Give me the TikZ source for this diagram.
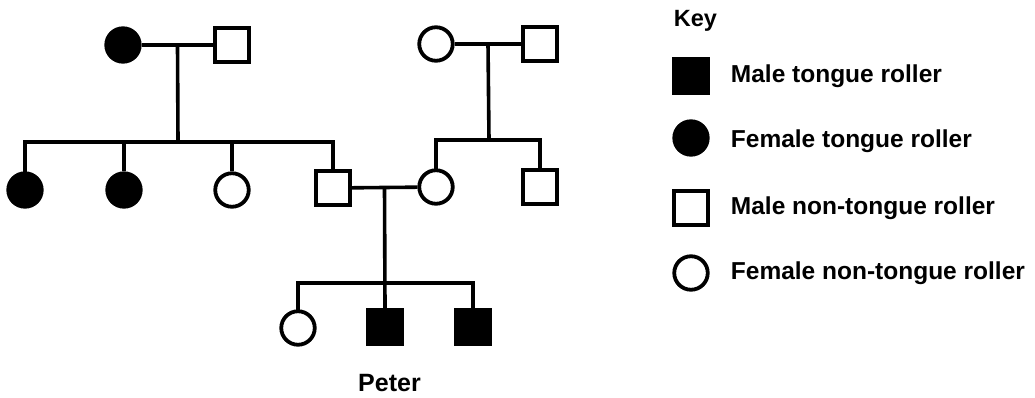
\documentclass[tikz,border=0pt]{standalone}
\usepackage{fontspec}
\setmainfont{Liberation Sans}
\begin{document}
\begin{tikzpicture}[x=1pt,y=-1pt,
  line width=3.8pt,
  male/.style={draw,rectangle,minimum size=33.5pt,inner sep=0pt},
  female/.style={draw,circle,minimum size=33.5pt,inner sep=0pt},
  affected/.style={fill=black},
  link/.style={line width=3.6pt},
  keytext/.style={anchor=west,font=\bfseries\fontsize{24.5}{26}\selectfont,inner sep=0pt}]
\useasboundingbox (0,0) rectangle (1035,398);

% generation I
\node[female,affected] (gf1) at (123,45) {};
\node[male] (gm1) at (232,45) {};
\node[female] (gf2) at (436,44) {};
\node[male] (gm2) at (540,44) {};

% generation II
\node[female,affected] (a1) at (25,190) {};
\node[female,affected] (a2) at (124,190) {};
\node[female] (a3) at (232,190) {};
\node[male] (father) at (333,188) {};
\node[female] (mother) at (436,187) {};
\node[male] (uncle) at (540,187) {};

% generation III
\node[female] (c1) at (298,328) {};
\node[male,affected] (peter) at (385,327) {};
\node[male,affected] (c3) at (473,327) {};
\node[font=\bfseries\fontsize{25}{27}\selectfont] (peterlabel) at (389.5,383) {Peter};

% couples
\draw[link] (gf1) -- (gm1) coordinate[pos=0.5] (m1);
\draw[link] (gf2) -- (gm2) coordinate[pos=0.5] (m2);
\draw[link] (father) -- (mother) coordinate[pos=0.5] (m3);

% sibships
\coordinate (s1) at (178,142);
\coordinate (s2) at (489,140);
\coordinate (s3) at (385,283);
\draw[link] (m1) -- (s1);
\draw[link,line cap=rect] (a1.north) |- (s1) -| (father.north);
\draw[link] (a2.north) -- (a2.north |- s1);
\draw[link] (a3.north) -- (a3.north |- s1);
\draw[link] (m2) -- (s2);
\draw[link,line cap=rect] (mother.north) |- (s2) -| (uncle.north);
\draw[link] (m3) -- (peter.north);
\draw[link,line cap=rect] (c1.north) |- (s3) -| (c3.north);

% key
\node[anchor=west,font=\bfseries\fontsize{23.5}{25}\selectfont,inner sep=0pt] (keyhead) at (672,21) {Key};
\node[male,affected] (k1) at (691,76) {};
\node[female,affected] (k2) at (691,138) {};
\node[male] (k3) at (691,208) {};
\node[female] (k4) at (691,273) {};
\node[keytext] (t1) at (729,76) {Male tongue roller};
\node[keytext] (t2) at (729,141) {Female tongue roller};
\node[keytext] (t3) at (729,208) {Male non-tongue roller};
\node[keytext] (t4) at (729,273) {Female non-tongue roller};
\end{tikzpicture}
\end{document}
